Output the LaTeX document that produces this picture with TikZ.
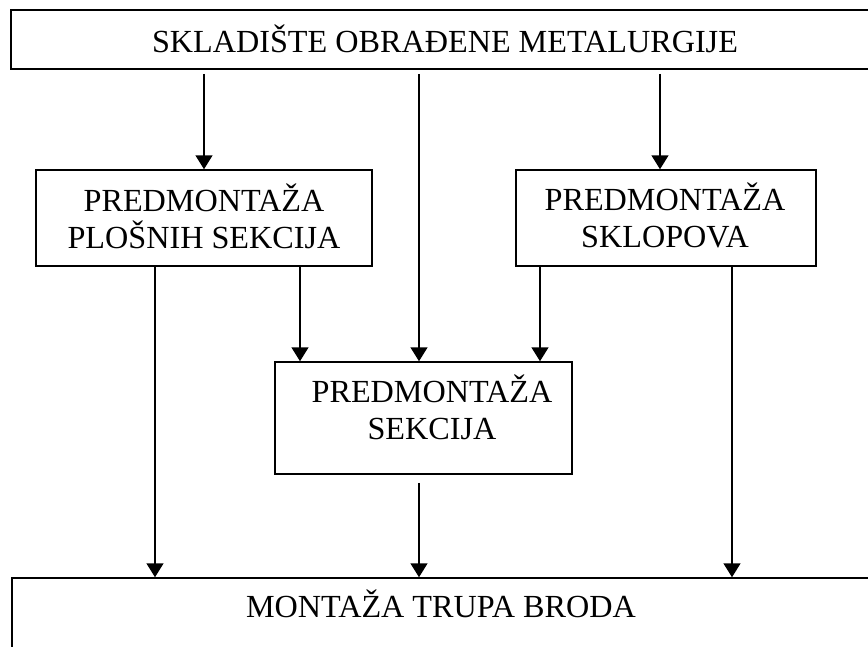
\documentclass[tikz,border=0pt]{standalone}
\usepackage{fontspec}
\setmainfont{Liberation Serif}
\usetikzlibrary{arrows.meta,calc}
\begin{document}
\begin{tikzpicture}[x=1pt,y=-1pt,
  box/.style={draw, line width=1.5pt, inner sep=0pt},
  lbl/.style={font=\fontsize{32.2}{37}\selectfont, align=center, anchor=base, inner sep=0pt},
  arr/.style={line width=1.5pt, -{Triangle[length=14pt,width=17pt]}}]
\path[use as bounding box, clip] (0,0) rectangle (868,646);
\fill[white] (0,0) rectangle (868,646);
% boxes
\node[box, minimum width=869pt, minimum height=59pt] (top) at (445.5,39.5) {};
\node[box, minimum width=336pt, minimum height=96pt] (pl) at (204,218) {};
\node[box, minimum width=300pt, minimum height=96pt] (sk) at (666,218) {};
\node[box, minimum width=297pt, minimum height=112pt] (se) at (423.5,418) {};
\node[box, minimum width=868pt, minimum height=122pt] (bot) at (446,639) {};
% texts (base = baseline of last line)
\node[lbl] (ttop) at (445,52) {SKLADIŠTE OBRAĐENE METALURGIJE};
\node[lbl] (tpl) at (204,248) {PREDMONTAŽA\\PLOŠNIH SEKCIJA};
\node[lbl] (tsk) at (665,247) {PREDMONTAŽA\\SKLOPOVA};
\node[lbl] (tse) at (432,439) {PREDMONTAŽA\\SEKCIJA};
\node[lbl] (tbot) at (441,617) {MONTAŽA TRUPA BRODA};
% connectors
\coordinate (s1) at ($(top.south -| pl.north)+(0,4)$);
\coordinate (s2) at ($(top.south -| se.north)+(-4.5,4)$);
\coordinate (s3) at ($(top.south -| sk.north)+(-6,4)$);
\coordinate (p4) at ($(pl.south)+(-49,0)$);
\coordinate (p5) at ($(pl.south)+(96,0)$);
\coordinate (k6) at ($(sk.south)+(-126,0)$);
\coordinate (k7) at ($(sk.south)+(66,0)$);
\coordinate (e8) at ($(se.south)+(-4.5,8)$);
\draw[arr] (s1) -- (pl.north);
\draw[arr] (s2) -- (s2 |- se.north);
\draw[arr] (s3) -- (s3 |- sk.north);
\draw[arr] (p4) -- (p4 |- bot.north);
\draw[arr] (p5) -- (p5 |- se.north);
\draw[arr] (k6) -- (k6 |- se.north);
\draw[arr] (k7) -- (k7 |- bot.north);
\draw[arr] (e8) -- (e8 |- bot.north);
\end{tikzpicture}
\end{document}
